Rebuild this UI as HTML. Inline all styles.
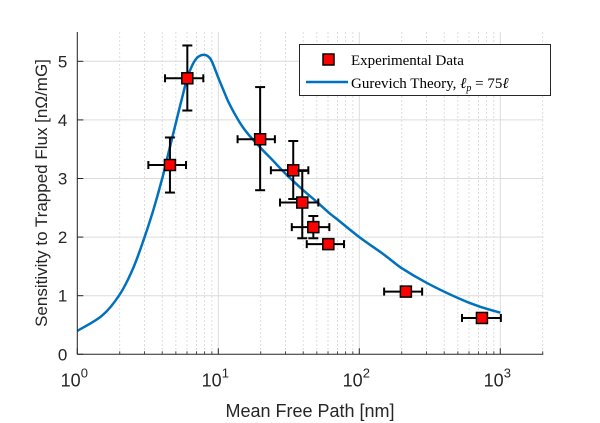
<!DOCTYPE html>
<html><head><meta charset="utf-8"><style>
body{margin:0;background:#fff}
svg{display:block}
text{font-family:"Liberation Sans",sans-serif;fill:#262626}
</style></head><body>
<svg id="chart" width="600" height="423" viewBox="0 0 600 423" xmlns="http://www.w3.org/2000/svg">
<g id="grid"></g>
<g id="curve"></g>
<g id="points"></g>
<g id="axes"></g>
<text x="310" y="417" text-anchor="middle" font-size="18">Mean Free Path [nm]</text>
<text transform="translate(47,193) rotate(-90)" text-anchor="middle" font-size="17">Sensitivity to Trapped Flux [nΩ/mG]</text>
<g>
<rect x="299.5" y="44.5" width="251" height="51" fill="#fff" stroke="#262626" stroke-width="1"/>
<rect x="323" y="54" width="11" height="11" fill="#f00" stroke="#000" stroke-width="1.5"/>
<text x="351" y="65" font-size="15" style="font-family:'Liberation Serif',serif;fill:#000">Experimental Data</text>
<line x1="306" y1="82" x2="348" y2="82" stroke="#0072bd" stroke-width="2.5"/>
<text x="351" y="88" font-size="15" style="font-family:'Liberation Serif',serif;fill:#000">Gurevich Theory, <tspan font-style="italic">ℓ</tspan><tspan font-style="italic" font-size="10" dy="3">p</tspan><tspan dy="-3"> = 75</tspan><tspan font-style="italic">ℓ</tspan></text>
</g>
</svg>
<script>
const curveX=[1,1.5,2,2.5,3,3.5,4,4.5,5,5.5,6,6.5,7,7.5,8,8.5,9,10,11,12,14,16,20,25,30,40,50,62,70,100,150,200,300,500,700,1000];
const curveY=[0.40,0.66,1.02,1.48,2.0,2.5,3.0,3.5,3.95,4.35,4.7,4.92,5.05,5.1,5.11,5.08,5.0,4.72,4.48,4.27,3.98,3.78,3.52,3.28,3.08,2.8,2.6,2.4,2.3,2.0,1.7,1.47,1.22,0.96,0.82,0.71];
const ptX=[4.54,6.03,19.8,34,39.4,47.2,60.3,214,741];
const ptY=[3.23,4.71,3.67,3.14,2.59,2.17,1.88,1.07,0.62];
const xLo=[3.19,4.19,13.7,23.6,27.4,33.2,42.4,150,535];
const xHi=[5.9,7.83,25.2,43.5,51.2,61.3,77.9,279,1009];
const yLo=[2.76,4.16,2.8,2.65,1.98,1.98,1.88,1.07,0.62];
const yHi=[3.70,5.27,4.56,3.64,3.13,2.36,1.88,1.07,0.62];
const yTicks=[0,1,2,3,4,5];
const xDecades=[0,1,2,3];
const NS="http://www.w3.org/2000/svg";
const X0=77.3,DEC=141,Y0=354.3,YU=58.6,XR=543.3,YT=32;
const fx=v=>X0+DEC*Math.log10(v), fy=v=>Y0-YU*v;
function mk(tag,attrs,parent){const e=document.createElementNS(NS,tag);for(const k in attrs)e.setAttribute(k,attrs[k]);parent.appendChild(e);return e;}
const grid=document.getElementById('grid'),axes=document.getElementById('axes');
for(let d=0;d<4;d++)for(let m=2;m<=9;m++){const v=m*Math.pow(10,d);if(v>2000)continue;const x=fx(v);
 const l=mk('line',{x1:x,x2:x,y1:YT,y2:Y0,stroke:'#d4d4d4','stroke-dasharray':'2,2','stroke-width':0.8},grid);
 
 mk('line',{x1:x,x2:x,y1:Y0,y2:Y0-3,stroke:'#262626','stroke-width':0.8},axes);}
xDecades.forEach(d=>{const x=fx(Math.pow(10,d));
 const l=mk('line',{x1:x,x2:x,y1:YT,y2:Y0,stroke:'#dcdcdc','stroke-width':1},grid);
 
 mk('line',{x1:x,x2:x,y1:Y0,y2:Y0-6,stroke:'#262626','stroke-width':1},axes);
 const t=mk('text',{x:x-3,y:Y0+32,'text-anchor':'middle','font-size':18},axes);t.textContent='10';
 
 const s=mk('tspan',{dy:-9,'font-size':13},t);s.textContent=String(d);});
yTicks.forEach(v=>{const y=fy(v);
 if(v>0){const l=mk('line',{x1:X0,x2:XR,y1:y,y2:y,stroke:'#dcdcdc','stroke-width':1},grid);
 }
 mk('line',{x1:X0,x2:X0+6,y1:y,y2:y,stroke:'#262626','stroke-width':1},axes);
 const t=mk('text',{x:X0-10,y:y+6,'text-anchor':'end','font-size':17},axes);t.textContent=String(v);
 });
mk('line',{x1:X0,x2:X0,y1:YT,y2:Y0,stroke:'#262626','stroke-width':1},axes);
mk('line',{x1:X0,x2:XR,y1:Y0,y2:Y0,stroke:'#262626','stroke-width':1},axes);
const P=curveX.map((v,i)=>[fx(v),fy(curveY[i])]);
let d='M'+P[0][0].toFixed(1)+','+P[0][1].toFixed(1);
for(let i=0;i<P.length-1;i++){const p0=P[Math.max(0,i-1)],p1=P[i],p2=P[i+1],p3=P[Math.min(P.length-1,i+2)];
 const c1=[p1[0]+(p2[0]-p0[0])/6,p1[1]+(p2[1]-p0[1])/6],c2=[p2[0]-(p3[0]-p1[0])/6,p2[1]-(p3[1]-p1[1])/6];
 d+=' C'+c1.map(n=>n.toFixed(1)).join(',')+' '+c2.map(n=>n.toFixed(1)).join(',')+' '+p2.map(n=>n.toFixed(1)).join(',');}
const pl=mk('path',{d:d,fill:'none',stroke:'#0072bd','stroke-width':2.5,'stroke-linejoin':'round'},document.getElementById('curve'));

const pts=document.getElementById('points');
ptX.forEach((v,i)=>{const g=mk('g',{},pts);
 
 const cx=fx(v),cy=fy(ptY[i]),st={stroke:'#000','stroke-width':2};
 const xl=fx(xLo[i]),xh=fx(xHi[i]),yl=fy(yLo[i]),yh=fy(yHi[i]);
 mk('line',Object.assign({x1:xl,x2:xh,y1:cy,y2:cy},st),g);
 mk('line',Object.assign({x1:xl,x2:xl,y1:cy-4,y2:cy+4},st),g);
 mk('line',Object.assign({x1:xh,x2:xh,y1:cy-4,y2:cy+4},st),g);
 if(yHi[i]>yLo[i]){mk('line',Object.assign({x1:cx,x2:cx,y1:yl,y2:yh},st),g);
 mk('line',Object.assign({x1:cx-5,x2:cx+5,y1:yl,y2:yl},st),g);
 mk('line',Object.assign({x1:cx-5,x2:cx+5,y1:yh,y2:yh},st),g);}
 mk('rect',{x:cx-5.5,y:cy-5.5,width:11,height:11,fill:'#f00',stroke:'#000','stroke-width':1.5},g);});
</script>
</body></html>
